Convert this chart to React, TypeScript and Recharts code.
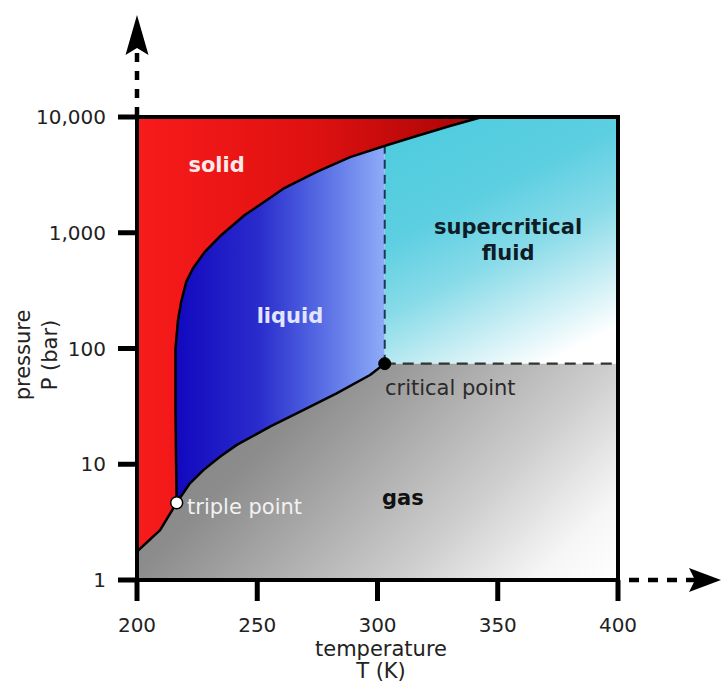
import { ComposedChart, Area, Line, XAxis, YAxis, ReferenceLine, ReferenceDot } from 'recharts'

// CO2 phase boundaries (T in K, P in bar)
const sublimationT = [200, 209.6, 216.5]
const sublimationP = [1.76, 2.7, 4.65]
const meltingT = [216.5, 216.2, 216.0, 216.0, 217.05, 218.4, 220.5, 223.3, 228.1, 235.1, 244.8, 254.5, 260.8, 274.7, 288.6, 303.8, 316.3, 330.1, 343.5]
const meltingP = [4.65, 12, 30, 100, 176, 254, 378, 493, 680, 957, 1422, 1950, 2400, 3350, 4500, 5700, 6850, 8350, 10000]
const vaporT = [216.5, 222.0, 227.6, 234.5, 241.5, 255.3, 269.1, 283.0, 296.9, 303.0]
const vaporP = [4.65, 6.85, 8.9, 11.6, 14.7, 21.1, 29.4, 41.0, 59.0, 74]
const triple = { T: 216.5, P: 4.65 }
const critical = { T: 303.0, P: 74 }
const isochoreTopP = 5650

const tempTicks = [200, 250, 300, 350, 400]
const pressureTicks = [1, 10, 100, 1000, 10000]
const T_MIN = 200
const T_MAX = 400
const P_MIN = 1
const P_MAX = 10000

const FONT = '"DejaVu Sans", Verdana, sans-serif'

// one shared table, each region/curve only fills its own rows
function buildRows() {
  const rows: any[] = []
  sublimationT.forEach((T, i) => rows.push({ T, solid: [sublimationP[i], P_MAX], solidEdge: sublimationP[i] }))
  meltingT.slice(1).forEach((T, i) => rows.push({ T, solid: [meltingP[i + 1], P_MAX], solidEdge: meltingP[i + 1] }))
  sublimationT.slice(0, -1).forEach((T, i) => rows.push({ T, gas: [P_MIN, sublimationP[i]] }))
  vaporT.forEach((T, i) => rows.push({ T, gas: [P_MIN, vaporP[i]], vapor: vaporP[i] }))
  rows.push({ T: T_MAX, gas: [P_MIN, critical.P] })
  rows.push({ T: Math.min(...meltingT), liquid: [P_MIN, P_MAX] })
  rows.push({ T: critical.T, liquid: [P_MIN, P_MAX] })
  rows.push({ T: critical.T, scf: [critical.P, P_MAX] })
  rows.push({ T: T_MAX, scf: [critical.P, P_MAX] })
  return rows
}

const notes = [
  { text: 'solid', T: 233.1, P: 3850, anchor: 'middle', color: '#ffeaea', bold: true },
  { text: 'liquid', T: 263.6, P: 191, anchor: 'middle', color: '#e2e5ff', bold: true },
  { text: 'supercritical', T: 354.3, P: 1122, anchor: 'middle', color: '#0e1c26', bold: true },
  { text: 'fluid', T: 354.3, P: 668, anchor: 'middle', color: '#0e1c26', bold: true },
  { text: 'gas', T: 301.9, P: 5.1, anchor: 'start', color: '#111111', bold: true },
  { text: 'triple point', T: 220.8, P: 4.27, anchor: 'start', color: '#f2f2f2', bold: false },
  { text: 'critical point', T: 303.1, P: 45.6, anchor: 'start', color: '#2a2a2a', bold: false },
]

const UpArrow = (p: any) => {
  const { x2, y2 } = p
  return (
    <g>
      <line x1={x2} y1={y2 - 1} x2={x2} y2={y2 - 69} stroke="#000" strokeWidth={4.5} strokeDasharray="9 9" />
      <polygon points={`${x2},${y2 - 102} ${x2 + 11.5},${y2 - 62} ${x2},${y2 - 69} ${x2 - 11.5},${y2 - 62}`} fill="#000" />
    </g>
  )
}

const RightArrow = (p: any) => {
  const { x2, y2 } = p
  return (
    <g>
      <line x1={x2 + 2} y1={y2} x2={x2 + 77} y2={y2} stroke="#000" strokeWidth={4.5} strokeDasharray="10 9" strokeDashoffset={10} />
      <polygon points={`${x2 + 103},${y2} ${x2 + 71},${y2 - 12} ${x2 + 77},${y2} ${x2 + 71},${y2 + 12}`} fill="#000" />
    </g>
  )
}

const XTitle = ({ viewBox }: any) => {
  const cx = viewBox.x + viewBox.width / 2 + 3.5
  return (
    <g fontFamily={FONT} fontSize={21} fill="#222" textAnchor="middle">
      <text x={cx} y={viewBox.y + 76}>temperature</text>
      <text x={cx} y={viewBox.y + 98}>T (K)</text>
    </g>
  )
}

const YTitle = ({ viewBox }: any) => {
  const cy = viewBox.y + viewBox.height / 2 + 6.5
  return (
    <g fontFamily={FONT} fontSize={21} fill="#222" textAnchor="middle">
      <text x={29.5} y={cy} transform={`rotate(-90, 29.5, ${cy})`}>pressure</text>
      <text x={57} y={cy} transform={`rotate(-90, 57, ${cy})`}>P (bar)</text>
    </g>
  )
}

export default function App() {
  const rows = buildRows()
  const tickStyle = { fontSize: 20, fill: '#222', fontFamily: FONT }

  return (
    <div style={{ fontFamily: FONT }}>
      <style>{`body{margin:0}`}</style>
      <ComposedChart width={722} height={683} data={rows} margin={{ top: 117, right: 104, bottom: 0, left: 0 }}>
        <defs>
          <linearGradient id="solidFill" x1="0" y1="0" x2="1" y2="0">
            <stop offset="0" stopColor="#f81b1b" />
            <stop offset="0.5" stopColor="#e01111" />
            <stop offset="1" stopColor="#a80404" />
          </linearGradient>
          <linearGradient id="liquidFill" x1="0" y1="0" x2="1" y2="0">
            <stop offset="0" stopColor="#1208bf" />
            <stop offset="0.4" stopColor="#2a2ccc" />
            <stop offset="0.65" stopColor="#4f62e0" />
            <stop offset="1" stopColor="#8eacf8" />
          </linearGradient>
          <linearGradient id="scfFill" x1="0" y1="0" x2="0.5725" y2="1.2034">
            <stop offset="0" stopColor="#4ccbde" />
            <stop offset="0.35" stopColor="#5ccfe1" />
            <stop offset="0.55" stopColor="#88dbe8" />
            <stop offset="0.75" stopColor="#cdeff5" />
            <stop offset="0.9" stopColor="#ffffff" />
          </linearGradient>
          <linearGradient id="gasFill" x1="0" y1="0" x2="1.206" y2="0.5415">
            <stop offset="0" stopColor="#808080" />
            <stop offset="0.3" stopColor="#8c8c8c" />
            <stop offset="0.45" stopColor="#a5a5a5" />
            <stop offset="0.68" stopColor="#cdcdcd" />
            <stop offset="0.88" stopColor="#f6f6f6" />
            <stop offset="1" stopColor="#ffffff" />
          </linearGradient>
        </defs>

        <Area dataKey="liquid" type="linear" fill="url(#liquidFill)" fillOpacity={1} stroke="none" connectNulls isAnimationActive={false} activeDot={false} />
        <Area dataKey="scf" type="linear" fill="url(#scfFill)" fillOpacity={1} stroke="none" connectNulls isAnimationActive={false} activeDot={false} />
        <Area dataKey="gas" type="linear" fill="url(#gasFill)" fillOpacity={1} stroke="none" connectNulls isAnimationActive={false} activeDot={false} />
        <Area dataKey="solid" type="linear" fill="url(#solidFill)" fillOpacity={1} stroke="none" connectNulls isAnimationActive={false} activeDot={false} />

        <ReferenceLine segment={[{ x: critical.T, y: critical.P }, { x: critical.T, y: isochoreTopP }]} stroke="#1f3554" strokeWidth={2} strokeDasharray="9 6" />
        <ReferenceLine segment={[{ x: critical.T, y: critical.P }, { x: T_MAX, y: critical.P }]} stroke="#333" strokeWidth={2.2} strokeDasharray="11 7" />

        <Line dataKey="solidEdge" type="linear" stroke="#000" strokeWidth={2.5} strokeLinejoin="round" dot={false} activeDot={false} connectNulls isAnimationActive={false} />
        <Line dataKey="vapor" type="linear" stroke="#000" strokeWidth={2.5} strokeLinejoin="round" dot={false} activeDot={false} connectNulls isAnimationActive={false} />

        <ReferenceLine y={P_MAX} stroke="#000" strokeWidth={4} strokeLinecap="square" />
        <ReferenceLine x={T_MAX} stroke="#000" strokeWidth={4} strokeLinecap="square" />
        <ReferenceLine segment={[{ x: T_MIN, y: P_MIN }, { x: T_MIN, y: P_MAX }]} stroke="none" shape={UpArrow} />
        <ReferenceLine segment={[{ x: T_MIN, y: P_MIN }, { x: T_MAX, y: P_MIN }]} stroke="none" shape={RightArrow} />

        <ReferenceDot x={critical.T} y={critical.P} r={6} fill="#000" stroke="#000" strokeWidth={1} />
        <ReferenceDot x={triple.T} y={triple.P} r={6} fill="#fff" stroke="#000" strokeWidth={1.5} />

        {notes.map(n => (
          <ReferenceDot
            key={n.text}
            x={n.T}
            y={n.P}
            r={0}
            shape={(p: any) => (
              <text
                x={p.cx}
                y={p.cy}
                textAnchor={n.anchor as any}
                dominantBaseline="central"
                fontFamily={FONT}
                fontSize={21}
                fontWeight={n.bold ? 'bold' : 'normal'}
                fill={n.color}
              >
                {n.text}
              </text>
            )}
          />
        ))}

        <XAxis
          dataKey="T"
          type="number"
          domain={[T_MIN, T_MAX]}
          ticks={tempTicks}
          allowDataOverflow
          height={103}
          axisLine={{ stroke: '#000', strokeWidth: 4 }}
          tickLine={{ stroke: '#000', strokeWidth: 5 }}
          tickSize={21}
          tickMargin={17}
          tick={tickStyle}
          label={<XTitle />}
        />
        <YAxis
          type="number"
          scale="log"
          domain={[P_MIN, P_MAX]}
          ticks={pressureTicks}
          allowDataOverflow
          width={137}
          axisLine={{ stroke: '#000', strokeWidth: 4 }}
          tickLine={{ stroke: '#000', strokeWidth: 5 }}
          tickSize={19}
          tickMargin={12}
          tick={tickStyle}
          tickFormatter={(v: number) => v.toLocaleString('en-US')}
          label={<YTitle />}
        />
      </ComposedChart>
    </div>
  )
}
